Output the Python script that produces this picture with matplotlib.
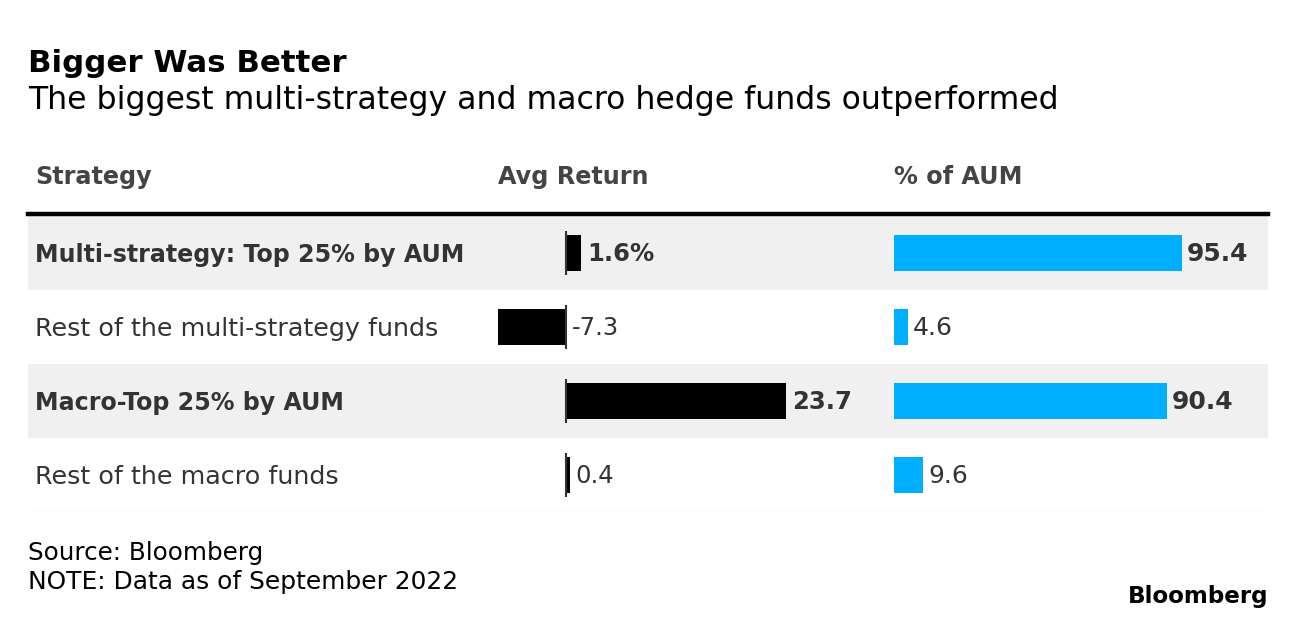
import matplotlib.pyplot as plt

plt.rcParams['font.family'] = ['DejaVu Sans']

W, H = 1296, 622

strategies = ["Multi-strategy: Top 25% by AUM", "Rest of the multi-strategy funds",
              "Macro-Top 25% by AUM", "Rest of the macro funds"]
avg_return = [1.6, -7.3, 23.7, 0.4]
return_labels = ["1.6%", "-7.3", "23.7", "0.4"]
pct_aum = [95.4, 4.6, 90.4, 9.6]
aum_labels = ["95.4", "4.6", "90.4", "9.6"]
is_top = [True, False, True, False]

TXT = '#333333'
BLUE = '#00aeff'
BAND = '#f0f0f0'


def fx(px):
    return px / W


def fy(py):
    return 1 - py / H


fig = plt.figure(figsize=(W / 100, H / 100), dpi=100)

# table area in pixels (top of first row to bottom of last)
top, bot = 216, 512
n = len(strategies)


def make_ax(x0, x1):
    ax = fig.add_axes([fx(x0), fy(bot), fx(x1 - x0), (bot - top) / H])
    ax.set_ylim(n - 0.5, -0.5)
    ax.axis('off')
    return ax


# row backgrounds
bg = make_ax(28, 1268)
bg.set_xlim(0, 1)
for i in range(n):
    if is_top[i]:
        bg.axhspan(i - 0.5, i + 0.5, color=BAND, lw=0)
bg.axhline(n - 0.5, color='#eeeeee', lw=1)

# header rule
fig.add_artist(plt.Line2D([fx(28), fx(1268)], [fy(214), fy(214)], color='black', lw=3.2))

# avg return bars
x0r, x1r, zero_px, scale_r = 480, 880, 566, 9.28
ax_r = make_ax(x0r, x1r)
ax_r.set_xlim((x0r - zero_px) / scale_r, (x1r - zero_px) / scale_r)
ax_r.barh(range(n), avg_return, height=0.48, color='black')
ax_r.vlines([0] * n, [i - 0.3 for i in range(n)], [i + 0.3 for i in range(n)], color='#333333', lw=1.5)
for i, (v, lab) in enumerate(zip(avg_return, return_labels)):
    ax_r.annotate(lab, (max(v, 0), i), xytext=(6, -1), textcoords='offset pixels',
                  va='center', ha='left', fontsize=17.5 if is_top[i] else 17.5, color=TXT,
                  fontweight='bold' if is_top[i] else 'normal')

# % of AUM bars
x0a, x1a, scale_a = 894, 1268, 3.02
ax_a = make_ax(x0a, x1a)
ax_a.set_xlim(0, (x1a - x0a) / scale_a)
ax_a.barh(range(n), pct_aum, height=0.48, color=BLUE)
for i, (v, lab) in enumerate(zip(pct_aum, aum_labels)):
    ax_a.annotate(lab, (v, i), xytext=(5, -1), textcoords='offset pixels',
                  va='center', ha='left', fontsize=18 if is_top[i] else 18, color=TXT,
                  fontweight='bold' if is_top[i] else 'normal')

# row labels
for i, s in enumerate(strategies):
    bg.text((35 - 28) / (1268 - 28), i + 0.03, s, va='center', ha='left',
            fontsize=17.1 if is_top[i] else 18.3, color=TXT,
            fontweight='bold' if is_top[i] else 'normal', transform=bg.get_yaxis_transform())

# titles
fig.text(fx(28), fy(64), "Bigger Was Better", fontsize=22.2, fontweight='bold', color='black', va='center')
fig.text(fx(28), fy(101), "The biggest multi-strategy and macro hedge funds outperformed",
         fontsize=22.7, color='black', va='center')

# column headers
for x, s in [(35, "Strategy"), (498, "Avg Return"), (894, "% of AUM")]:
    fig.text(fx(x), fy(177), s, fontsize=17.2, fontweight='bold', color='#444444', va='center')

# footer
fig.text(fx(28), fy(553), "Source: Bloomberg", fontsize=17.7, color='black', va='center')
fig.text(fx(28), fy(582), "NOTE: Data as of September 2022", fontsize=17.9, color='black', va='center')
fig.text(fx(1268), fy(596), "Bloomberg", fontsize=16.6, fontweight='bold', color='black',
         va='center', ha='right')

fig.savefig('out.png', dpi=100)
